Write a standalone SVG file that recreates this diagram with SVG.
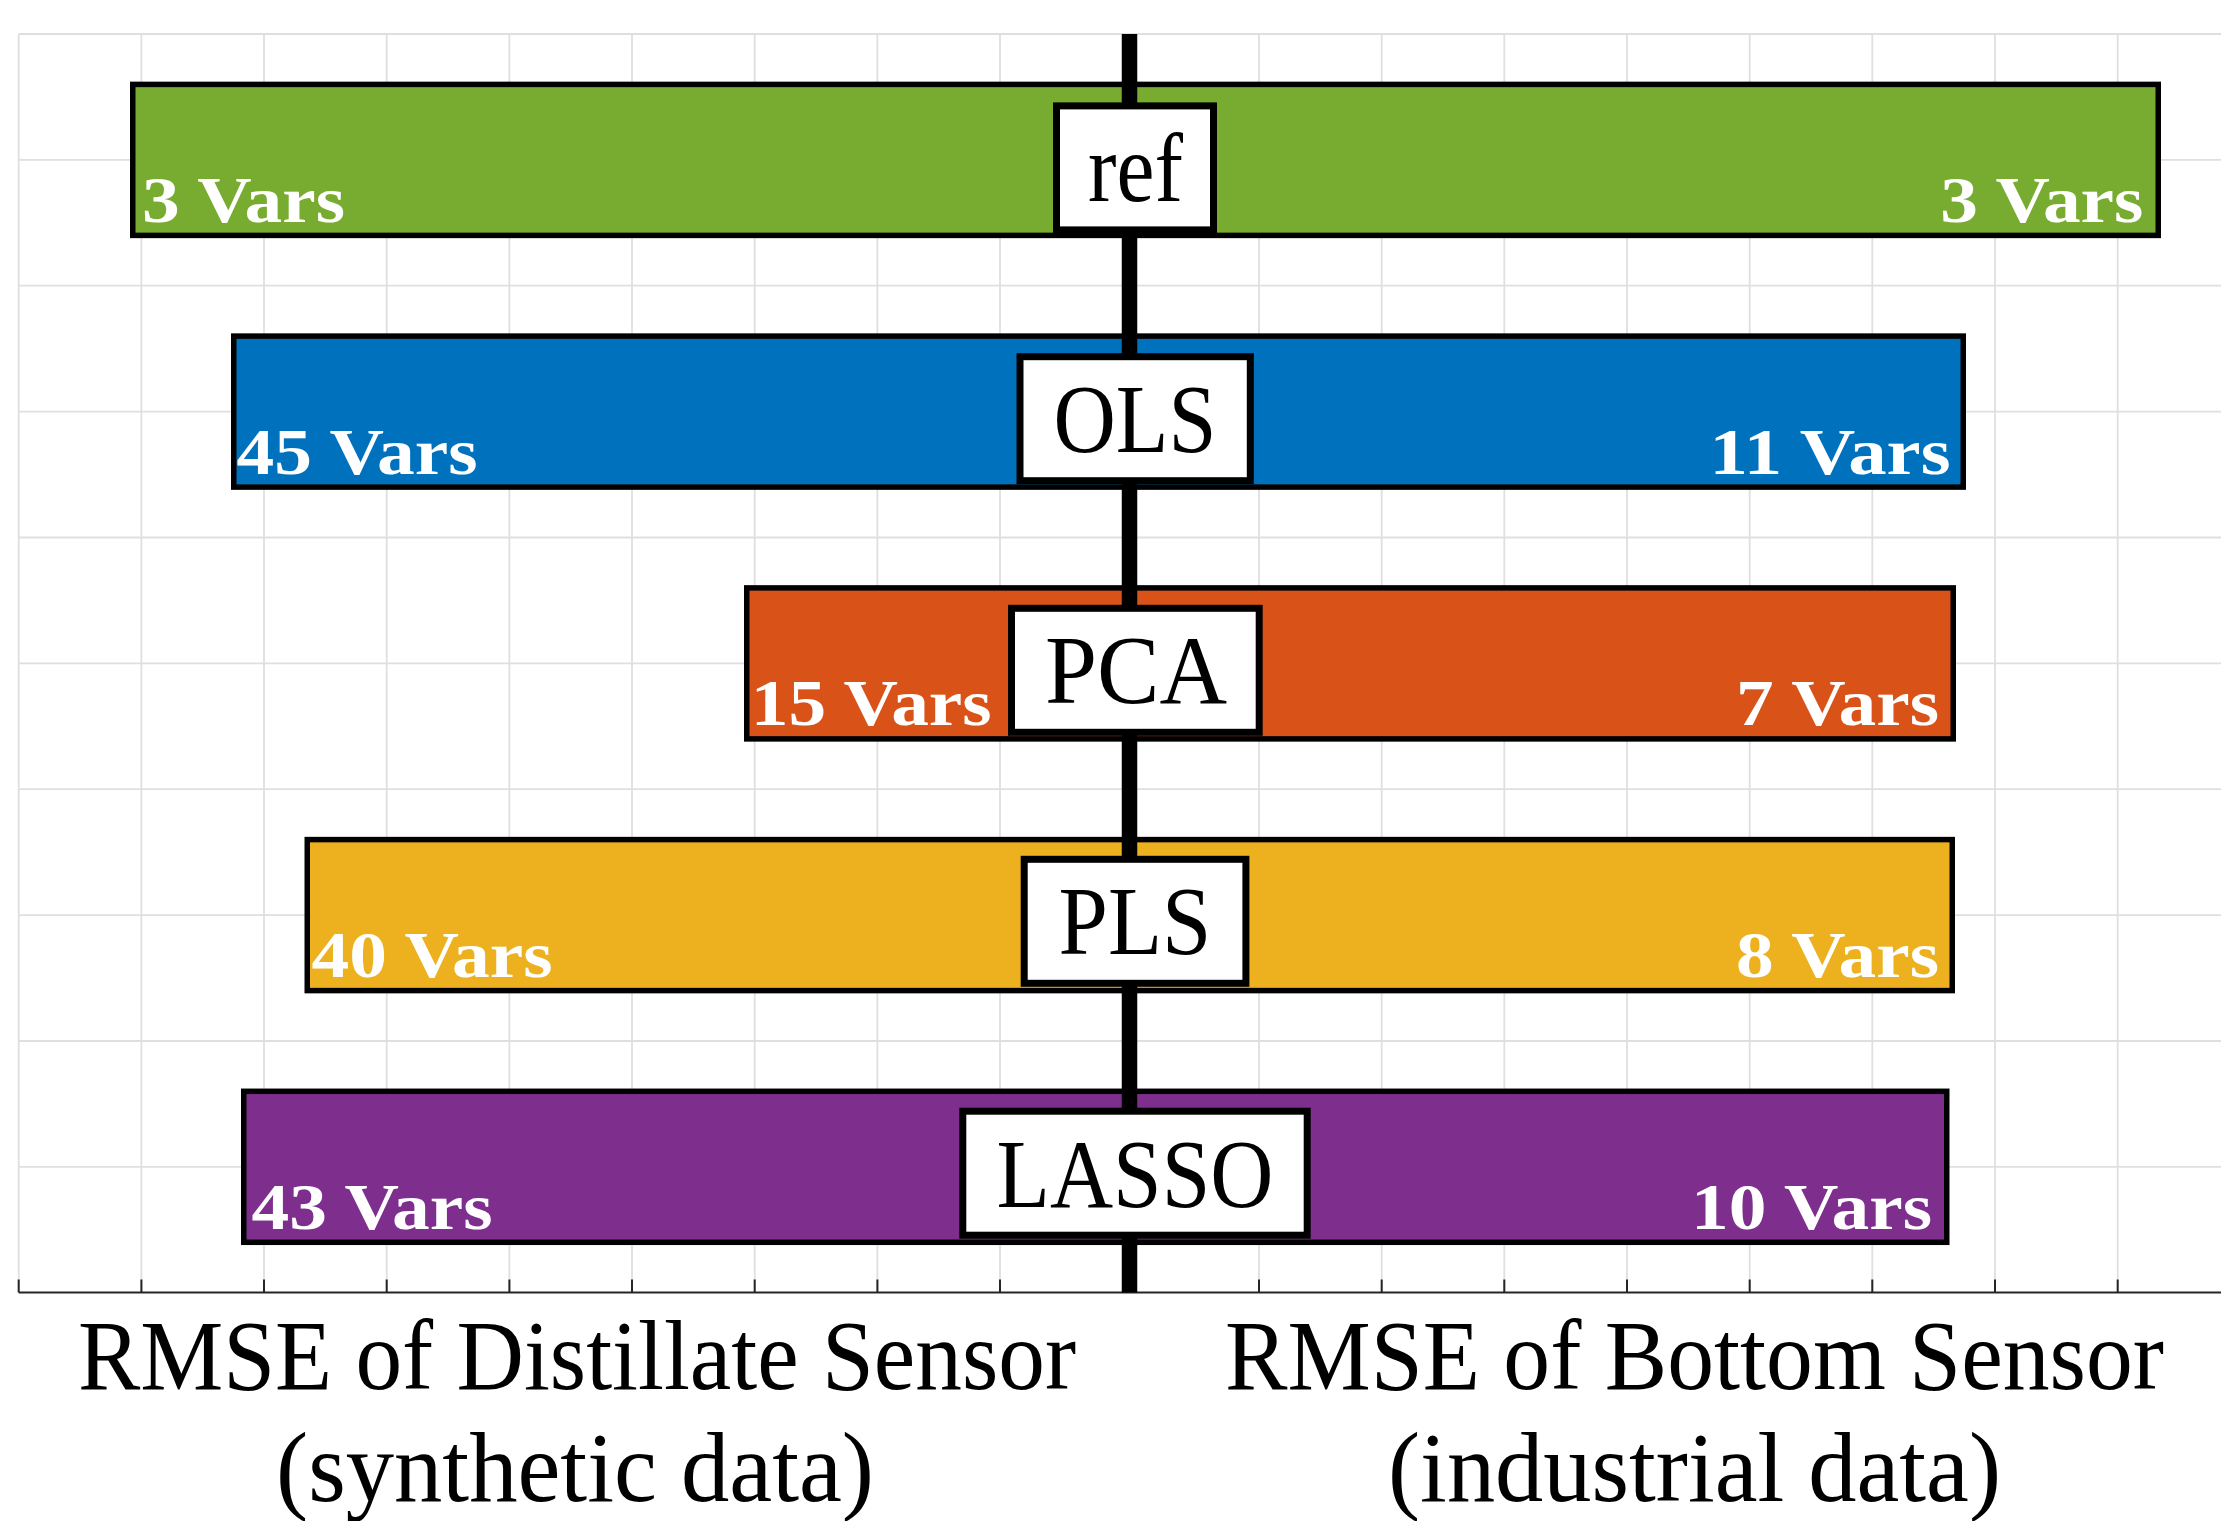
<svg xmlns="http://www.w3.org/2000/svg" width="2221" height="1521" viewBox="0 0 2221 1521">
  <style>
    .grid { stroke: #dfdfdf; stroke-width: 1.8; fill: none; }
    .axis { stroke: #262626; stroke-width: 2; fill: none; }
    .bar { stroke: #000; stroke-width: 5.5; }
    .box { fill: #fff; stroke: #000; stroke-width: 7; }
    .name { font-family: "Liberation Serif", "Times New Roman", serif; font-size: 97px; fill: #000; text-anchor: middle; }
    .vars { font-family: "Liberation Serif", "Times New Roman", serif; font-size: 66px; font-weight: bold; fill: #fff; }
    .title { font-family: "Liberation Serif", "Times New Roman", serif; font-size: 100px; fill: #000; text-anchor: middle; }
    .green { fill: #77AC30; }
    .blue { fill: #0072BD; }
    .orange { fill: #D95319; }
    .yellow { fill: #EDB120; }
    .purple { fill: #7E2F8E; }
  </style>
  <rect width="2221" height="1521" fill="#fff"/>

  <!-- grid -->
  <g id="grid" class="grid">
    <path d="M18.7 34V1292 M141.4 34V1292 M264 34V1292 M386.7 34V1292 M509.4 34V1292 M632 34V1292 M754.7 34V1292 M877.4 34V1292 M1000 34V1292 M1259 34V1292 M1381.7 34V1292 M1504.3 34V1292 M1627 34V1292 M1749.7 34V1292 M1872.3 34V1292 M1995 34V1292 M2117.7 34V1292"/>
    <path d="M18.7 34H2221 M18.7 159.9H2221 M18.7 285.7H2221 M18.7 411.6H2221 M18.7 537.5H2221 M18.7 663.4H2221 M18.7 789.2H2221 M18.7 915.1H2221 M18.7 1041H2221 M18.7 1166.8H2221"/>
  </g>

  <!-- x axis with ticks -->
  <g id="x-axis" class="axis">
    <path d="M18.7 1292.5H2221"/>
    <path d="M18.7 1292.5v-13 M141.4 1292.5v-13 M264 1292.5v-13 M386.7 1292.5v-13 M509.4 1292.5v-13 M632 1292.5v-13 M754.7 1292.5v-13 M877.4 1292.5v-13 M1000 1292.5v-13 M1259 1292.5v-13 M1381.7 1292.5v-13 M1504.3 1292.5v-13 M1627 1292.5v-13 M1749.7 1292.5v-13 M1872.3 1292.5v-13 M1995 1292.5v-13 M2117.7 1292.5v-13"/>
  </g>

  <!-- bars: left half = distillate RMSE, right half = bottom RMSE -->
  <g id="bars">
    <g id="bar-ref">
      <rect class="bar green" x="132.75" y="84.4" width="996.75" height="151"/>
      <rect class="bar green" x="1129.5" y="84.4" width="1028.75" height="151"/>
      <text class="vars" x="142" y="221.8" textLength="203" lengthAdjust="spacingAndGlyphs">3 Vars</text>
      <text class="vars" x="2143.3" y="221.8" text-anchor="end" textLength="203" lengthAdjust="spacingAndGlyphs">3 Vars</text>
    </g>
    <g id="bar-ols">
      <rect class="bar blue" x="233.75" y="336.1" width="895.75" height="151"/>
      <rect class="bar blue" x="1129.5" y="336.1" width="833.75" height="151"/>
      <text class="vars" x="236.5" y="473.6" textLength="241" lengthAdjust="spacingAndGlyphs">45 Vars</text>
      <text class="vars" x="1950.5" y="473.6" text-anchor="end" textLength="241" lengthAdjust="spacingAndGlyphs">11 Vars</text>
    </g>
    <g id="bar-pca">
      <rect class="bar orange" x="746.75" y="587.9" width="382.75" height="151"/>
      <rect class="bar orange" x="1129.5" y="587.9" width="823.75" height="151"/>
      <text class="vars" x="750.7" y="725.4" textLength="241" lengthAdjust="spacingAndGlyphs">15 Vars</text>
      <text class="vars" x="1939" y="725.4" text-anchor="end" textLength="203" lengthAdjust="spacingAndGlyphs">7 Vars</text>
    </g>
    <g id="bar-pls">
      <rect class="bar yellow" x="307.25" y="839.6" width="822.25" height="151"/>
      <rect class="bar yellow" x="1129.5" y="839.6" width="822.75" height="151"/>
      <text class="vars" x="311.6" y="977.1" textLength="241" lengthAdjust="spacingAndGlyphs">40 Vars</text>
      <text class="vars" x="1939" y="977.1" text-anchor="end" textLength="203" lengthAdjust="spacingAndGlyphs">8 Vars</text>
    </g>
    <g id="bar-lasso">
      <rect class="bar purple" x="243.75" y="1091.3" width="885.75" height="151"/>
      <rect class="bar purple" x="1129.5" y="1091.3" width="817.25" height="151"/>
      <text class="vars" x="251.5" y="1228.8" textLength="241" lengthAdjust="spacingAndGlyphs">43 Vars</text>
      <text class="vars" x="1932" y="1228.8" text-anchor="end" textLength="241" lengthAdjust="spacingAndGlyphs">10 Vars</text>
    </g>
  </g>

  <!-- centre divider -->
  <g id="connectors">
    <line x1="1129.5" y1="34" x2="1129.5" y2="1292.5" stroke="#000" stroke-width="15.5"/>
  </g>

  <!-- method labels -->
  <g id="label-ref">
    <rect class="box" x="1056.5" y="105.9" width="157" height="124"/>
    <text class="name" x="1135.5" y="200.9" textLength="95" lengthAdjust="spacingAndGlyphs">ref</text>
  </g>
  <g id="label-ols">
    <rect class="box" x="1020" y="356.7" width="230.3" height="124"/>
    <text class="name" x="1135" y="451.7" textLength="163" lengthAdjust="spacingAndGlyphs">OLS</text>
  </g>
  <g id="label-pca">
    <rect class="box" x="1011.5" y="608.3" width="247.7" height="124"/>
    <text class="name" x="1136" y="703.3" textLength="182" lengthAdjust="spacingAndGlyphs">PCA</text>
  </g>
  <g id="label-pls">
    <rect class="box" x="1024.2" y="859.3" width="221.7" height="124"/>
    <text class="name" x="1135" y="954.3" textLength="153" lengthAdjust="spacingAndGlyphs">PLS</text>
  </g>
  <g id="label-lasso">
    <rect class="box" x="962.8" y="1111.2" width="344.4" height="124"/>
    <text class="name" x="1135" y="1206.7" textLength="277" lengthAdjust="spacingAndGlyphs">LASSO</text>
  </g>

  <!-- axis titles -->
  <g id="titles">
    <text class="title" x="577" y="1389" textLength="998" lengthAdjust="spacingAndGlyphs">RMSE of Distillate Sensor</text>
    <text class="title" x="575" y="1500.5" textLength="598" lengthAdjust="spacingAndGlyphs">(synthetic data)</text>
    <text class="title" x="1694.5" y="1389" textLength="939" lengthAdjust="spacingAndGlyphs">RMSE of Bottom Sensor</text>
    <text class="title" x="1694.5" y="1500.5" textLength="613" lengthAdjust="spacingAndGlyphs">(industrial data)</text>
  </g>
</svg>
